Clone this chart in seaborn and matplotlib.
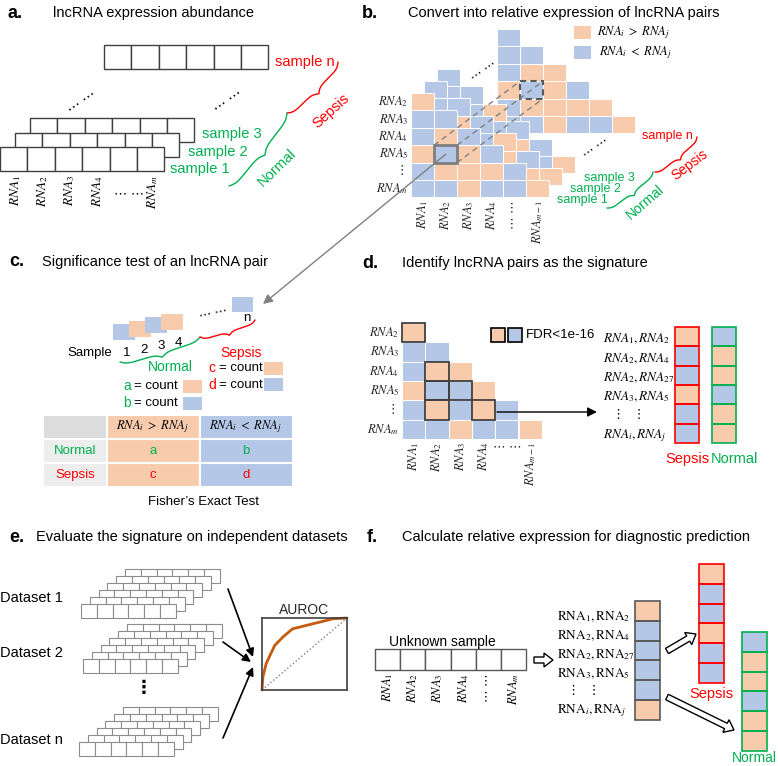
import numpy as np
import matplotlib
matplotlib.use('Agg')
import matplotlib.pyplot as plt
import seaborn as sns
from matplotlib.colors import ListedColormap
from matplotlib.patches import Rectangle, FancyArrow

# ---------------- data ----------------
n = np.nan
# panel b: relative expression of lncRNA pairs (1: RNA_i > RNA_j, 0: RNA_i < RNA_j)
b_sample1 = [[1, n, n, n, n, n],
             [0, 0, n, n, n, n],
             [0, 1, 0, n, n, n],
             [1, 0, 1, 0, n, n],
             [0, 1, 1, 1, 0, n],
             [0, 0, 1, 0, 0, 1]]
b_sample2 = [[0, n, n, n, n, n],
             [0, 0, n, n, n, n],
             [1, 1, 0, n, n, n],
             [0, 1, 0, 1, n, n],
             [1, 0, 1, 1, 0, n],
             [0, 1, 0, 1, 1, 1]]
b_sample3 = [[0, n, n, n, n, n],
             [0, 0, n, n, n, n],
             [1, 0, 1, n, n, n],
             [1, 1, 0, 0, n, n],
             [0, 1, 0, 1, 0, n],
             [1, 0, 1, 1, 0, 1]]
b_samplen = [[0, n, n, n, n, n],
             [0, 0, n, n, n, n],
             [0, 1, 1, n, n, n],
             [1, 0, 1, 0, n, n],
             [0, 1, 1, 1, 1, n],
             [0, 0, 1, 0, 0, 1]]
# panel d
d_matrix = [[1, n, n, n, n, n],
            [0, 0, n, n, n, n],
            [0, 1, 1, n, n, n],
            [1, 0, 0, 1, n, n],
            [0, 1, 0, 1, 0, n],
            [0, 0, 1, 0, 0, 1]]
d_significant = [(0, 0), (2, 1), (3, 1), (3, 2), (4, 1), (4, 3)]
sig_pairs_d = ['$RNA_1, RNA_2$', '$RNA_2, RNA_4$', '$RNA_2, RNA_{27}$',
               '$RNA_3, RNA_5$', '\u22ee  \u22ee', '$RNA_i, RNA_j$']
sig_pairs_f = [r'$\mathrm{RNA}_1\mathrm{,RNA}_2$', r'$\mathrm{RNA}_2\mathrm{,RNA}_4$',
               r'$\mathrm{RNA}_2\mathrm{,RNA}_{27}$', r'$\mathrm{RNA}_3\mathrm{,RNA}_5$',
               '\u22ee  \u22ee', r'$\mathrm{RNA}_i\mathrm{,RNA}_j$']
sepsis_sig = [1, 0, 0, 1, 0, 0]
normal_sig = [0, 1, 1, 0, 1, 1]
unknown_sig = [1, 0, 0, 0, 0, 1]
c_pair_values = [0, 1, 0, 1]
c_n_value = [0]
roc_fpr = [0.0, 0.01, 0.05, 0.15, 0.25, 0.36, 0.60, 0.84, 1.0]
roc_tpr = [0.0, 0.18, 0.37, 0.62, 0.74, 0.85, 0.92, 0.99, 1.0]
row_labels = ['$RNA_2$', '$RNA_3$', '$RNA_4$', '$RNA_5$', '\u22ee', '$RNA_m$']
col_labels = ['$RNA_1$', '$RNA_2$', '$RNA_3$', '$RNA_4$', '\u22ef \u22ef', '$RNA_{m-1}$']
col_labels_a = ['$RNA_1$', '$RNA_2$', '$RNA_3$', '$RNA_4$', '\u22ef \u22ef', '$RNA_m$']

# ---------------- style ----------------
W, H = 778, 766
ORANGE = '#F8CBAD'
BLUE = '#B4C7E7'
RED = '#FF0000'
GREEN = '#00B050'
sns.set_theme(style='white')
plt.rcParams['font.family'] = ['Liberation Sans', 'DejaVu Sans']
plt.rcParams['mathtext.fontset'] = 'stix'
CMAP = ListedColormap([BLUE, ORANGE])
TITLE_FS = 10.5
HEAD_FS = 13

fig = plt.figure(figsize=(W / 100, H / 100), dpi=100)
bg = fig.add_axes([0, 0, 1, 1], label='bg')
bg.set_xlim(0, W); bg.set_ylim(H, 0); bg.axis('off')

zc = [2]


def cell_map(data, x, y, cw, ch, edge='white', lw=0.7, xt=False, yt=False, fs=9):
    arr = np.array(data, dtype=float)
    if arr.ndim == 1:
        arr = arr[:, None]
    nr, nc = arr.shape
    ax = fig.add_axes([x / W, 1 - (y + ch * nr) / H, cw * nc / W, ch * nr / H])
    sns.heatmap(arr, mask=np.isnan(arr), cmap=CMAP, vmin=0, vmax=1, cbar=False,
                linewidths=0, xticklabels=xt, yticklabels=yt, ax=ax)
    ax.patch.set_alpha(0)
    ax.set_zorder(zc[0]); zc[0] += 1
    for r in range(nr):
        for c in range(nc):
            if not np.isnan(arr[r, c]):
                ax.add_patch(Rectangle((c, r), 1, 1, fill=False, ec=edge, lw=lw,
                                       zorder=3, clip_on=False))
    ax.tick_params(length=0, pad=2, labelsize=fs)
    return ax


def rect(ax, x, y, w, h, fc, ec, lw=1.0, z=1, ls='-'):
    ax.add_patch(Rectangle((x, y), w, h, facecolor=fc, edgecolor=ec, lw=lw, zorder=z,
                           linestyle=ls))


def row_cells(ax, x, y, k, w, h, ec='#404040', lw=1.0):
    for i in range(k):
        rect(ax, x + i * w, y, w, h, 'white', ec, lw)


def brace(ax, p0, p1, depth, color, toward, lw=1.0, k=26):
    p0 = np.array(p0, float); p1 = np.array(p1, float)
    d = p1 - p0
    L = np.hypot(*d)
    u = d / L
    nrm = np.array([-u[1], u[0]])
    mid = (p0 + p1) / 2
    if np.dot(nrm, np.array(toward) - mid) < 0:
        nrm = -nrm
    N = 201
    t = np.linspace(0, 1, N)
    half = t[:N // 2 + 1]
    yh = 1 / (1 + np.exp(-k * (half - half[0]))) + 1 / (1 + np.exp(-k * (half - half[-1])))
    yy = np.concatenate((yh, yh[-2::-1]))
    yy = (yy - yy.min()) / (yy.max() - yy.min())
    pts = p0[None, :] + t[:, None] * d[None, :] + (yy * depth)[:, None] * nrm[None, :]
    ax.plot(pts[:, 0], pts[:, 1], color=color, lw=lw, solid_capstyle='round')


def txt(ax, x, y, s, fs=9.5, color='black', ha='center', va='center', **kw):
    ax.text(x, y, s, fontsize=fs, color=color, ha=ha, va=va, **kw)


def head(x, y, letter, title, tx):
    txt(bg, x, y, letter, fs=HEAD_FS, ha='left', weight='bold')
    txt(bg, tx, y, title, fs=TITLE_FS, ha='left')


# ================= panel a =================
head(8, 13, 'a.', 'lncRNA expression abundance', 53)
cw_a, ch_a = 27.4, 24
for (x, y) in [(104, 45), (30, 118), (15, 133), (0, 147)]:
    row_cells(bg, x, y, 6, cw_a, ch_a)
for i, lab in enumerate(col_labels_a):
    if '\u22ef' in lab:
        txt(bg, 129, 195, lab, fs=9.5)
    else:
        txt(bg, cw_a * (i + 0.5) + 1.5, 175, lab, fs=9.5, rotation=90, va='top')
txt(bg, 82, 102, '\u22ef \u22ef', fs=10, rotation=35)
txt(bg, 228, 101, '\u22ef \u22ef', fs=10, rotation=35)
txt(bg, 275, 62, 'sample n', fs=10.5, color=RED, ha='left')
txt(bg, 202, 134, 'sample 3', fs=10.5, color=GREEN, ha='left')
txt(bg, 188, 152, 'sample 2', fs=10.5, color=GREEN, ha='left')
txt(bg, 170, 169, 'sample 1', fs=10.5, color=GREEN, ha='left')
brace(bg, (338, 62), (287, 113), 9, RED, (330, 110))
brace(bg, (287, 113), (229, 186), 9, GREEN, (275, 160))
txt(bg, 331, 111, 'Sepsis', fs=10.5, color=RED, rotation=42)
txt(bg, 277, 168, 'Normal', fs=10.5, color=GREEN, rotation=44)

# ================= panel b =================
head(362, 13, 'b.', 'Convert into relative expression of lncRNA pairs', 408)
cw_b, ch_b = 23, 17.4
bx, by = 411, 93
off_n, off_3, off_2 = (86, -64), (26, -24), (13, -12)
ax_bn = cell_map(b_samplen, bx + off_n[0], by + off_n[1], cw_b, ch_b)
ax_bn.add_patch(Rectangle((1, 3), 1, 1, fill=False, ec='#595959', lw=1.5, ls=(0, (3, 2)),
                          zorder=5, clip_on=False))
cell_map(b_sample3, bx + off_3[0], by + off_3[1], cw_b, ch_b)
cell_map(b_sample2, bx + off_2[0], by + off_2[1], cw_b, ch_b)
ax_b1 = cell_map(b_sample1, bx, by, cw_b, ch_b, xt=col_labels, yt=row_labels, fs=9)
ax_b1.add_patch(Rectangle((1, 3), 1, 1, fill=False, ec='#7f7f7f', lw=2, zorder=5,
                          clip_on=False))
for lab in ax_b1.get_yticklabels():
    lab.set_rotation(0)
for lab in ax_b1.get_xticklabels():
    lab.set_rotation(90)
rect(bg, 574, 26, 17, 13, ORANGE, 'none', 0)
rect(bg, 574, 46, 17, 13, BLUE, 'none', 0)
txt(bg, 597, 33, '$RNA_i\\ >\\ RNA_j$', fs=9, ha='left')
txt(bg, 599, 53, '$RNA_i\\ <\\ RNA_j$', fs=9, ha='left')
txt(bg, 484, 71, '\u22ef \u22ef', fs=9, rotation=35)
txt(bg, 596, 148, '\u22ef \u22ef', fs=9, rotation=35)
txt(bg, 642, 136, 'sample n', fs=9, color=RED, ha='left')
txt(bg, 584, 178, 'sample 3', fs=9, color=GREEN, ha='left')
txt(bg, 570, 189, 'sample 2', fs=9, color=GREEN, ha='left')
txt(bg, 557, 200, 'sample 1', fs=9, color=GREEN, ha='left')
brace(bg, (697, 137), (655, 172), 7, RED, (690, 165))
brace(bg, (653, 172), (607, 208), 7, GREEN, (645, 200))
txt(bg, 690, 165, 'Sepsis', fs=10, color=RED, rotation=37)
txt(bg, 645, 202, 'Normal', fs=10, color=GREEN, rotation=41)

# ================= panel c =================
head(9, 262, 'c.', 'Significance test of an lncRNA pair', 42)
for i, v in enumerate(c_pair_values):
    rect(bg, 113 + 16 * i, 324 - 3.4 * i, 22, 16, ORANGE if v else BLUE, 'none', 0, z=2 + i)
for v in c_n_value:
    rect(bg, 232, 297, 21, 15, ORANGE if v else BLUE, 'none', 0)
txt(bg, 213, 314, '\u22ef \u22ef', fs=9, rotation=12)
txt(bg, 247, 318, 'n', fs=9.5)
txt(bg, 90, 353, 'Sample', fs=9.5)
for i, s in enumerate(['1', '2', '3', '4']):
    txt(bg, 127 + 17 * i, 353 - 3.4 * i, s, fs=9.5)
brace(bg, (120, 362), (200, 337), 8, GREEN, (170, 370))
brace(bg, (200, 337), (255, 320), 7, RED, (241, 353))
txt(bg, 170, 367, 'Normal', fs=10, color=GREEN)
txt(bg, 241, 353, 'Sepsis', fs=10, color=RED)
for (lx, ly, letter, col) in [(123, 386, 'a', GREEN), (123, 403, 'b', GREEN),
                              (208, 368, 'c', RED), (208, 385, 'd', RED)]:
    txt(bg, lx, ly, letter, fs=10, color=col, ha='left')
    txt(bg, lx + 11, ly, '= count', fs=9.5, ha='left')
rect(bg, 183, 380, 19, 13, ORANGE, 'none', 0)
rect(bg, 183, 397, 19, 13, BLUE, 'none', 0)
rect(bg, 264, 362, 19, 13, ORANGE, 'none', 0)
rect(bg, 264, 378, 19, 13, BLUE, 'none', 0)
tx = [43, 107, 200, 293]
ty = [415, 439, 463, 487]
fills = [['#DCDCDC', ORANGE, BLUE], ['#EDEDED', ORANGE, BLUE], ['#EDEDED', ORANGE, BLUE]]
for r in range(3):
    for c in range(3):
        rect(bg, tx[c], ty[r], tx[c + 1] - tx[c], ty[r + 1] - ty[r], fills[r][c], 'white', 1.5)
txt(bg, 153, 427, '$RNA_i\\ >\\ RNA_j$', fs=9)
txt(bg, 246, 427, '$RNA_i\\ <\\ RNA_j$', fs=9)
for r, (lab, col, a, b) in enumerate([('Normal', GREEN, 'a', 'b'), ('Sepsis', RED, 'c', 'd')]):
    yy = (ty[r + 1] + ty[r + 2]) / 2
    txt(bg, 75, yy, lab, fs=9.5, color=col)
    txt(bg, 153, yy, a, fs=9.5, color=col)
    txt(bg, 246, yy, b, fs=9.5, color=col)
txt(bg, 204, 502, 'Fisher\u2019s Exact Test', fs=9.5)

# ================= panel d =================
head(362, 263, 'd.', 'Identify lncRNA pairs as the signature', 402)
ax_d = cell_map(d_matrix, 402, 323, 23.3, 19.3, xt=col_labels, yt=row_labels, fs=9)
for lab in ax_d.get_yticklabels():
    lab.set_rotation(0)
for lab in ax_d.get_xticklabels():
    lab.set_rotation(0 if '\u22ef' in lab.get_text() else 90)
    if '\u22ef' in lab.get_text():
        lab.set_va('top')
for (r, c) in d_significant:
    ax_d.add_patch(Rectangle((c, r), 1, 1, fill=False, ec='#404040', lw=1.3, zorder=5,
                             clip_on=False))
rect(bg, 491, 328, 14, 14, ORANGE, 'black', 1.2)
rect(bg, 508, 328, 14, 14, BLUE, 'black', 1.2)
txt(bg, 526, 335, 'FDR<1e-16', fs=9.5, ha='left')
for i, s in enumerate(sig_pairs_d):
    if '\u22ee' in s:
        txt(bg, 629, 339 + 19.3 * i - 1, s, fs=9.5)
    else:
        txt(bg, 603, 339 + 19.3 * i, s, fs=9.5, ha='left')
cell_map(sepsis_sig, 675, 327, 24, 19.3, edge=RED, lw=1.2)
cell_map(normal_sig, 712, 327, 24, 19.3, edge=GREEN, lw=1.2)
txt(bg, 687, 459, 'Sepsis', fs=10.5, color=RED)
txt(bg, 734, 459, 'Normal', fs=10.5, color=GREEN)

# ================= panel e =================
head(9, 537, 'e.', 'Evaluate the signature on independent datasets', 36)
for (x0, y0) in [(81, 604), (83, 659), (79, 742)]:
    for kk in range(5, -1, -1):
        row_cells(bg, x0 + kk * 8.8, y0 - kk * 7, 6, 15.8, 14, ec='#8c8c8c', lw=0.8)
txt(bg, 0, 598, 'Dataset 1', fs=10.5, ha='left')
txt(bg, 0, 653, 'Dataset 2', fs=10.5, ha='left')
txt(bg, 0, 740, 'Dataset n', fs=10.5, ha='left')
txt(bg, 144, 688, '\u22ee', fs=13, weight='bold')
ax_roc = fig.add_axes([262 / W, 1 - 690 / H, 85 / W, 72 / H])
ax_roc.set_zorder(zc[0]); zc[0] += 1
ax_roc.plot([0, 1], [0, 1], ls=':', color='#7f7f7f', lw=1)
sns.lineplot(x=roc_fpr, y=roc_tpr, ax=ax_roc, color='#C55A11', lw=2, clip_on=False)
ax_roc.set_xlim(0, 1); ax_roc.set_ylim(0, 1)
ax_roc.set_xticks([]); ax_roc.set_yticks([])
for sp in ax_roc.spines.values():
    sp.set_visible(True); sp.set_color('#404040'); sp.set_linewidth(1.2)
ax_roc.set_title('AUROC', fontsize=10, pad=3)

# ================= panel f =================
head(367, 537, 'f.', 'Calculate relative expression for diagnostic prediction', 402)
row_cells(bg, 375, 649, 6, 25.2, 21, ec='#595959')
for i, lab in enumerate(col_labels_a):
    txt(bg, 375 + 25.2 * (i + 0.5), 673, lab, fs=9, rotation=90, va='top')
txt(bg, 442, 642, 'Unknown sample', fs=10)
for i, s in enumerate(sig_pairs_f):
    if '\u22ee' in s:
        txt(bg, 584, 617 + 18.8 * i - 1, s, fs=9.5)
    else:
        txt(bg, 557, 617 + 18.8 * i, s, fs=9.5, ha='left')
cell_map(unknown_sig, 635, 601, 25, 19.8, edge='#595959', lw=1.2)
cell_map(sepsis_sig, 699, 564, 25, 19.8, edge=RED, lw=1.2)
cell_map(normal_sig, 742, 632, 25, 19.8, edge=GREEN, lw=1.2)
txt(bg, 711, 694, 'Sepsis', fs=10.5, color=RED)
txt(bg, 754, 758, 'Normal', fs=10, color=GREEN)

# ================= overlay: arrows and connectors =================
fg = fig.add_axes([0, 0, 1, 1], label='fg')
fg.set_xlim(0, W); fg.set_ylim(H, 0); fg.axis('off'); fg.patch.set_alpha(0)
fg.set_zorder(100)
for (cx, cy) in [(1, 3), (2, 3), (2, 4)]:
    x0, y0 = bx + cx * cw_b, by + cy * ch_b
    fg.plot([x0, x0 + off_n[0]], [y0, y0 + off_n[1]], ls=(0, (4, 3)), color='#808080', lw=1)
fg.annotate('', xy=(263, 304), xytext=(446, 154),
            arrowprops=dict(arrowstyle='-|>', color='#808080', lw=1, mutation_scale=14,
                            shrinkA=0, shrinkB=0))
fg.annotate('', xy=(597, 412), xytext=(497, 412),
            arrowprops=dict(arrowstyle='-|>', color='black', lw=1, mutation_scale=14,
                            shrinkA=0, shrinkB=0))
for (s, e) in [((228, 589), (253, 657)), ((223, 642), (251, 662)), ((223, 738), (253, 667))]:
    fg.annotate('', xy=e, xytext=s,
                arrowprops=dict(arrowstyle='-|>', color='black', lw=1.2, mutation_scale=12,
                                shrinkA=0, shrinkB=0))
for (x, y, dx, dy) in [(534, 660, 19, 0), (667, 651, 29, -17), (667, 697, 67, 33)]:
    fg.add_patch(FancyArrow(x, y, dx, dy, width=6, head_width=14, head_length=9,
                            length_includes_head=True, fc='white', ec='black', lw=1))

fig.savefig('out.png', dpi=100)
